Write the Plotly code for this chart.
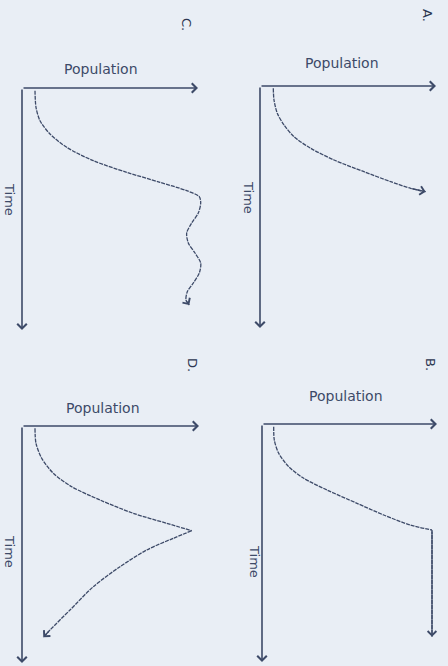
import plotly.graph_objects as go

# ---------------------------------------------------------------------------
# Data: population (across) vs time (down), in pixel units
# measured from each panel's origin
# ---------------------------------------------------------------------------

A_POP  = [13.3, 14, 17.3, 24, 34, 50.7, 74, 104, 130.7, 150.7, 165.7]
A_TIME = [2.3, 14, 27.3, 39, 50.7, 62.3, 74, 85.7, 95.7, 102.3, 105.7]

B_RISE_POP  = [11.7, 12.3, 16.7, 26.7, 41.7, 65, 95, 121.7, 148.3, 170]
B_RISE_TIME = [2.7, 16, 29.3, 42.7, 54.3, 66, 79.3, 91, 101, 106]
B_DROP_POP  = [170, 170]
B_DROP_TIME = [106, 212.7]

C_POP  = [13, 14, 18, 28, 44.7, 71.3, 104.7, 138, 164.7, 177.3, 178.7, 176.3,
          169.7, 164.7, 166.3, 173, 178.7, 177.3, 171.3, 165.3, 164, 167.3]
C_TIME = [2.7, 19.3, 32.7, 46, 59.3, 72.7, 84.3, 94.3, 102.7, 108.7, 115, 125,
          135, 145, 155, 165, 175, 185, 195, 203.7, 212, 217]

D_RISE_POP  = [13, 14, 19.7, 31.3, 49.7, 78, 111.3, 144.7, 169.7]
D_RISE_TIME = [2.3, 17.3, 32.3, 47.3, 60.7, 74, 87.3, 97.3, 104.7]
D_FALL_POP  = [169.7, 151.3, 124.7, 98, 71.3, 48, 28, 21.3]
D_FALL_TIME = [104.7, 112.3, 124, 140.7, 160.7, 184, 204, 211.3]

LETTERS = ["C.", "A.", "D.", "B."]
X_LABEL = "Population"
Y_LABEL = "Time"

# ---------------------------------------------------------------------------
# Layout of the four panels (pixels in a 448x666 page)
# ---------------------------------------------------------------------------

W, H = 448, 666
BG = "#e9eef5"
INK = "#3d4a68"
FONT = "DejaVu Sans"

# origin x, origin y, population axis length, time axis length
PANELS = [
    (22, 88, 176, 242),    # C
    (260, 86, 176, 242),   # A
    (22, 426, 177, 237),   # D
    (262, 424, 175, 238),  # B
]
POP_LABEL_XY = [(101, 69), (342, 63), (103, 408), (346, 396)]
TIME_LABEL_XY = [(10, 199), (248, 197), (10, 551), (255, 561)]
LETTER_XY = [(186, 24), (427, 15), (193, 365), (431, 364)]

CURVES = [
    [(C_POP, C_TIME)],
    [(A_POP, A_TIME)],
    [(D_RISE_POP, D_RISE_TIME), (D_FALL_POP, D_FALL_TIME)],
    [(B_RISE_POP, B_RISE_TIME), (B_DROP_POP, B_DROP_TIME)],
]


def paper_label(xy, text, size, angle=0, color=INK):
    return dict(
        x=xy[0] / W, y=1 - xy[1] / H, xref="paper", yref="paper",
        xanchor="center", yanchor="middle", text=text, showarrow=False,
        textangle=angle, font=dict(family=FONT, size=size, color=color),
    )


fig = go.Figure()
annotations = []

for i, ((ox, oy, plen, tlen), segs) in enumerate(zip(PANELS, CURVES)):
    n = "" if i == 0 else str(i + 1)
    xref, yref = "x" + n, "y" + n

    left, right = ox - 12, min(ox + plen + 12, W)
    top, bottom = oy - 12, min(oy + tlen + 10, H)
    fig.layout["xaxis" + n] = dict(
        domain=[left / W, right / W], range=[left - ox, right - ox],
        visible=False, anchor=yref, fixedrange=True,
    )
    fig.layout["yaxis" + n] = dict(
        domain=[1 - bottom / H, 1 - top / H], range=[bottom - oy, top - oy],
        visible=False, anchor=xref, fixedrange=True,
    )

    for px, ty in segs:
        fig.add_trace(go.Scatter(
            x=px, y=ty, mode="lines", xaxis=xref, yaxis=yref,
            line=dict(color=INK, width=1.3, shape="spline", smoothing=0.8,
                      dash="4px,1px"),
            hoverinfo="skip", showlegend=False,
        ))

    # arrowhead at the end of the curve
    px, ty = segs[-1]
    annotations.append(dict(
        x=px[-1], y=ty[-1], ax=px[-2], ay=ty[-2], xref=xref, yref=yref,
        axref=xref, ayref=yref, text="", showarrow=True, arrowhead=4,
        arrowsize=1.3, arrowwidth=1.3, arrowcolor=INK, standoff=0,
    ))

    # population and time axes drawn as arrows from the origin
    for tip in [(plen, 0), (0, tlen)]:
        annotations.append(dict(
            x=tip[0], y=tip[1], ax=0, ay=0, xref=xref, yref=yref,
            axref=xref, ayref=yref, text="", showarrow=True, arrowhead=4,
            arrowsize=1.15, arrowwidth=1.6, arrowcolor=INK, standoff=0,
        ))

    annotations.append(paper_label(POP_LABEL_XY[i], X_LABEL, 14))
    annotations.append(paper_label(TIME_LABEL_XY[i], Y_LABEL, 13, angle=90))
    annotations.append(paper_label(LETTER_XY[i], LETTERS[i], 13, angle=90,
                                   color="#2c3650"))

fig.update_layout(
    width=W, height=H, margin=dict(l=0, r=0, t=0, b=0),
    paper_bgcolor=BG, plot_bgcolor="rgba(0,0,0,0)",
    annotations=annotations,
)

# drop the page's default body margin so the figure sits at the top-left corner
fig.write_html(
    "out.html", config={"displayModeBar": False},
    post_script="document.body.style.margin='0';document.body.style.background='%s';" % BG,
)
